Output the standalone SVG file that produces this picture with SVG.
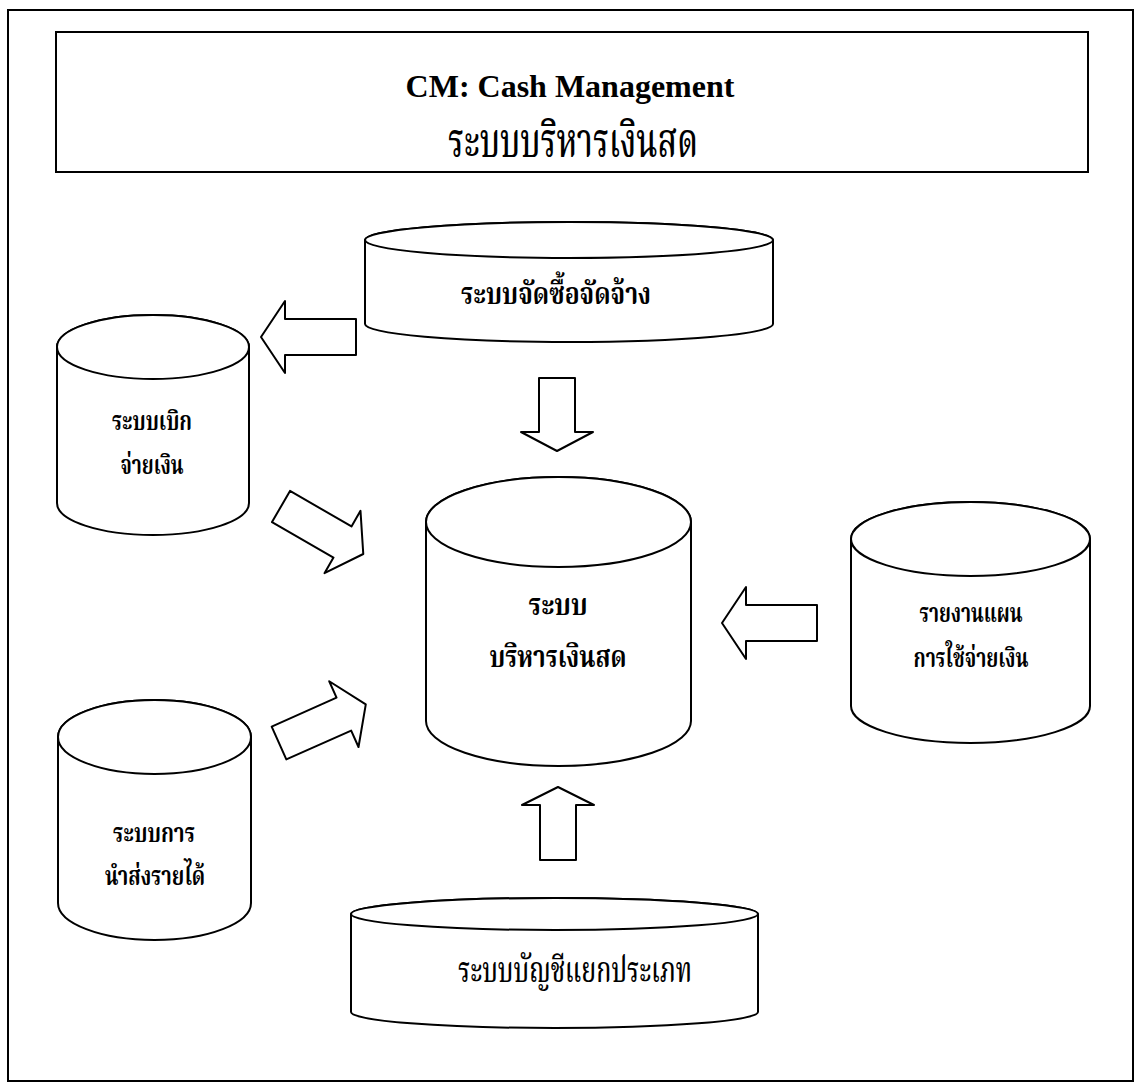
<svg xmlns="http://www.w3.org/2000/svg" xmlns:xlink="http://www.w3.org/1999/xlink" width="1137" height="1083" viewBox="0 0 1137 1083">
<style>
.ln{fill:#fff;stroke:#000;stroke-width:2;stroke-linejoin:round}
.frame{fill:none;stroke:#000;stroke-width:2}
.en{font-family:'Liberation Serif','Times New Roman',serif;font-weight:bold;fill:#000;text-anchor:middle}
.th{font-family:'Noto Serif Thai','Norasi','Noto Sans Thai Looped','Garuda','Noto Sans Thai','Liberation Serif',serif;fill:#000;text-anchor:middle}
.b{font-weight:bold}
</style>
<defs>
<polygon id="blk" points="0,-18 71,-18 71,-36 95,0 71,36 71,18 0,18"/>
</defs>
<rect width="1137" height="1083" fill="#fff"/>
<rect class="frame" x="8" y="10" width="1125" height="1071"/>
<g id="title">
<rect class="frame" x="56" y="32" width="1032" height="140"/>
<text class="en" x="570" y="97" font-size="32">CM: Cash Management</text>
<text class="th" x="573" y="157" font-size="48" font-weight="500" textLength="250" lengthAdjust="spacingAndGlyphs">ระบบบริหารเงินสด</text>
</g>
<g id="connectors" class="ln">
<use xlink:href="#blk" transform="translate(356,337) rotate(180)"/>
<polygon points="539,378 575,378 575,432 593,432 557,451 521,432 539,432"/>
<use xlink:href="#blk" transform="translate(281,506.5) rotate(30)"/>
<use xlink:href="#blk" transform="translate(817,623) rotate(180)"/>
<use xlink:href="#blk" transform="translate(279,743) rotate(-24)"/>
<polygon points="540,860 576,860 576,805 594,805 558,787 522,805 540,805"/>
</g>
<g id="procurement">
<path class="ln" d="M365,240 V324 A204,18 0 0 0 773,324 V240 A204,18 0 0 0 365,240 Z"/>
<ellipse class="ln" cx="569" cy="240" rx="204" ry="18"/>
<text class="th b" x="556" y="304" font-size="31" textLength="190" lengthAdjust="spacingAndGlyphs">ระบบจัดซื้อจัดจ้าง</text>
</g>
<g id="disbursement">
<path class="ln" d="M57,347 V503 A96,32 0 0 0 249,503 V347 A96,32 0 0 0 57,347 Z"/>
<ellipse class="ln" cx="153" cy="347" rx="96" ry="32"/>
<text class="th b" x="152" y="430" font-size="26" textLength="80" lengthAdjust="spacingAndGlyphs">ระบบเบิก</text>
<text class="th b" x="152" y="474" font-size="26" textLength="63" lengthAdjust="spacingAndGlyphs">จ่ายเงิน</text>
</g>
<g id="cash">
<path class="ln" d="M426,522 V721 A132.5,45 0 0 0 691,721 V522 A132.5,45 0 0 0 426,522 Z"/>
<ellipse class="ln" cx="558.5" cy="522" rx="132.5" ry="45"/>
<text class="th b" x="558" y="615" font-size="30" textLength="59" lengthAdjust="spacingAndGlyphs">ระบบ</text>
<text class="th b" x="558" y="667" font-size="30" textLength="137" lengthAdjust="spacingAndGlyphs">บริหารเงินสด</text>
</g>
<g id="report">
<path class="ln" d="M851,539 V706 A119.5,37 0 0 0 1090,706 V539 A119.5,37 0 0 0 851,539 Z"/>
<ellipse class="ln" cx="970.5" cy="539" rx="119.5" ry="37"/>
<text class="th b" x="971" y="622" font-size="27" textLength="103" lengthAdjust="spacingAndGlyphs">รายงานแผน</text>
<text class="th b" x="971" y="667" font-size="27" textLength="115" lengthAdjust="spacingAndGlyphs">การใช้จ่ายเงิน</text>
</g>
<g id="revenue">
<path class="ln" d="M58,737 V903 A96.5,37 0 0 0 251,903 V737 A96.5,37 0 0 0 58,737 Z"/>
<ellipse class="ln" cx="154.5" cy="737" rx="96.5" ry="37"/>
<text class="th b" x="154" y="842" font-size="27" textLength="82" lengthAdjust="spacingAndGlyphs">ระบบการ</text>
<text class="th b" x="155" y="885" font-size="27" textLength="100" lengthAdjust="spacingAndGlyphs">นำส่งรายได้</text>
</g>
<g id="ledger">
<path class="ln" d="M351,914 V1012 A203.5,16 0 0 0 758,1012 V914 A203.5,16 0 0 0 351,914 Z"/>
<ellipse class="ln" cx="554.5" cy="914" rx="203.5" ry="16"/>
<text class="th" x="575" y="982" font-size="35" font-weight="500" textLength="234" lengthAdjust="spacingAndGlyphs">ระบบบัญชีแยกประเภท</text>
</g>
</svg>
